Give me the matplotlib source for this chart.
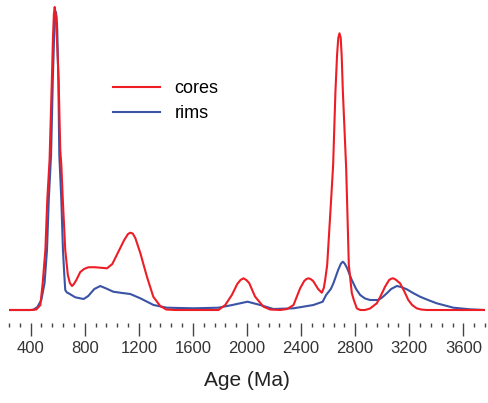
"""
Age spectra (kernel density curves) for zircon cores and rims.

Outputs:
  out.png
"""

import matplotlib.pyplot as plt

plt.rcParams["font.family"] = ["Liberation Sans", "DejaVu Sans"]

# curve samples: age (Ma) and relative probability
CORES_AGE = [240, 398, 442, 472, 489, 509, 523, 540, 557, 565, 572, 578, 585, 594, 607,
             619, 627, 638, 656, 675, 690, 706, 720, 738, 767, 795, 826, 870, 915, 965,
             1004, 1048, 1092, 1120, 1137, 1155, 1174, 1211, 1260, 1307, 1358, 1403,
             1469, 1789, 1839, 1888, 1928, 1952, 1974, 1995, 2016, 2060, 2122, 2171,
             2245, 2297, 2344, 2393, 2423, 2440, 2454, 2470, 2489, 2526, 2553, 2568,
             2578, 2593, 2622, 2637, 2654, 2666, 2675, 2684, 2693, 2700, 2709, 2733,
             2740, 2753, 2775, 2790, 2812, 2837, 2873, 2910, 2960, 2992, 3021, 3051,
             3066, 3078, 3090, 3103, 3132, 3162, 3193, 3221, 3255, 3287, 3329, 3760]
CORES_P = [0, 0, 0.005, 0.05, 0.267, 0.60, 1.10, 1.50, 2.30, 2.72, 2.96, 3.03, 2.96,
           2.72, 2.30, 1.60, 1.45, 1.10, 0.60, 0.35, 0.27, 0.24, 0.26, 0.30, 0.38, 0.41,
           0.427, 0.428, 0.423, 0.417, 0.46, 0.58, 0.70, 0.76, 0.773, 0.765, 0.72, 0.57,
           0.333, 0.133, 0.04, 0.005, 0, 0, 0.05, 0.15, 0.26, 0.30, 0.317, 0.30, 0.27,
           0.133, 0.033, 0.005, 0, 0.01, 0.05, 0.217, 0.29, 0.31, 0.317, 0.31, 0.29,
           0.21, 0.173, 0.22, 0.30, 0.45, 1.10, 1.45, 2.183, 2.55, 2.72, 2.767, 2.72,
           2.55, 2.183, 1.43, 1.10, 0.45, 0.17, 0.10, 0.017, 0, 0, 0.015, 0.067, 0.15,
           0.233, 0.30, 0.312, 0.317, 0.312, 0.30, 0.267, 0.19, 0.10, 0.05, 0.017, 0.005,
           0, 0]

RIMS_AGE = [240, 398, 420, 450, 479, 503, 521, 534, 551, 564, 575, 580, 586, 592, 597,
            605, 612, 627, 639, 649, 656, 668, 681, 730, 792, 826, 871, 915, 959, 1011,
            1078, 1137, 1211, 1309, 1408, 1605, 1789, 1891, 2004, 2098, 2196, 2344,
            2491, 2560, 2585, 2620, 2639, 2674, 2695, 2709, 2722, 2740, 2775, 2807,
            2837, 2873, 2910, 2972, 2999, 3034, 3066, 3108, 3140, 3182, 3228, 3280,
            3339, 3403, 3465, 3526, 3649, 3760]
RIMS_P = [0, 0, 0.002, 0.03, 0.10, 0.27, 0.60, 1.10, 1.55, 2.30, 2.80, 2.93, 2.98, 2.93,
          2.80, 2.30, 1.55, 1.10, 0.60, 0.35, 0.20, 0.175, 0.167, 0.127, 0.11, 0.14,
          0.21, 0.24, 0.215, 0.183, 0.17, 0.16, 0.117, 0.05, 0.023, 0.017, 0.023, 0.05,
          0.083, 0.05, 0.01, 0.017, 0.05, 0.083, 0.15, 0.21, 0.267, 0.40, 0.465, 0.483,
          0.465, 0.42, 0.30, 0.21, 0.15, 0.115, 0.10, 0.10, 0.125, 0.167, 0.21, 0.24,
          0.23, 0.207, 0.17, 0.133, 0.10, 0.067, 0.045, 0.023, 0.007, 0]

MAJOR_TICKS = list(range(400, 3601, 400))
MINOR_TICKS = [t for t in range(240, 3761, 80) if t % 400 != 0]

RED = "#ee1d25"
BLUE = "#3a53a4"


def main():
    fig = plt.figure(figsize=(4.89, 4.03), dpi=100)
    ax = fig.add_axes([0.0184, 0.1985, 0.9734, 0.8015])

    ax.plot(RIMS_AGE, RIMS_P, color=BLUE, lw=1.5, label="rims", zorder=2)
    ax.plot(CORES_AGE, CORES_P, color=RED, lw=1.5, label="cores", zorder=3)

    ax.set_xlim(240, 3760)
    ax.set_ylim(-0.13, 3.10)
    for s in ax.spines.values():
        s.set_visible(False)
    ax.set_yticks([])
    ax.set_xticks(MAJOR_TICKS)
    ax.set_xticks(MINOR_TICKS, minor=True)
    ax.tick_params(axis="x", which="major", length=9, width=1.0, color="#444444",
                   labelsize=12, labelcolor="#333333", pad=4)
    ax.tick_params(axis="x", which="minor", length=3, width=1.0, color="#444444")
    ax.set_xlabel("Age (Ma)", fontsize=15, color="#222222", labelpad=11)

    handles, labels = ax.get_legend_handles_labels()
    ax.legend(handles[::-1], labels[::-1], loc="upper left",
              bbox_to_anchor=(113 / 489, 1 - 80 / 403), bbox_transform=fig.transFigure,
              frameon=False, fontsize=13, handlelength=2.6, handletextpad=0.8,
              labelspacing=0.45, borderpad=0, borderaxespad=0)

    fig.savefig("out.png", dpi=100, facecolor="white")
    plt.close(fig)


if __name__ == "__main__":
    main()
